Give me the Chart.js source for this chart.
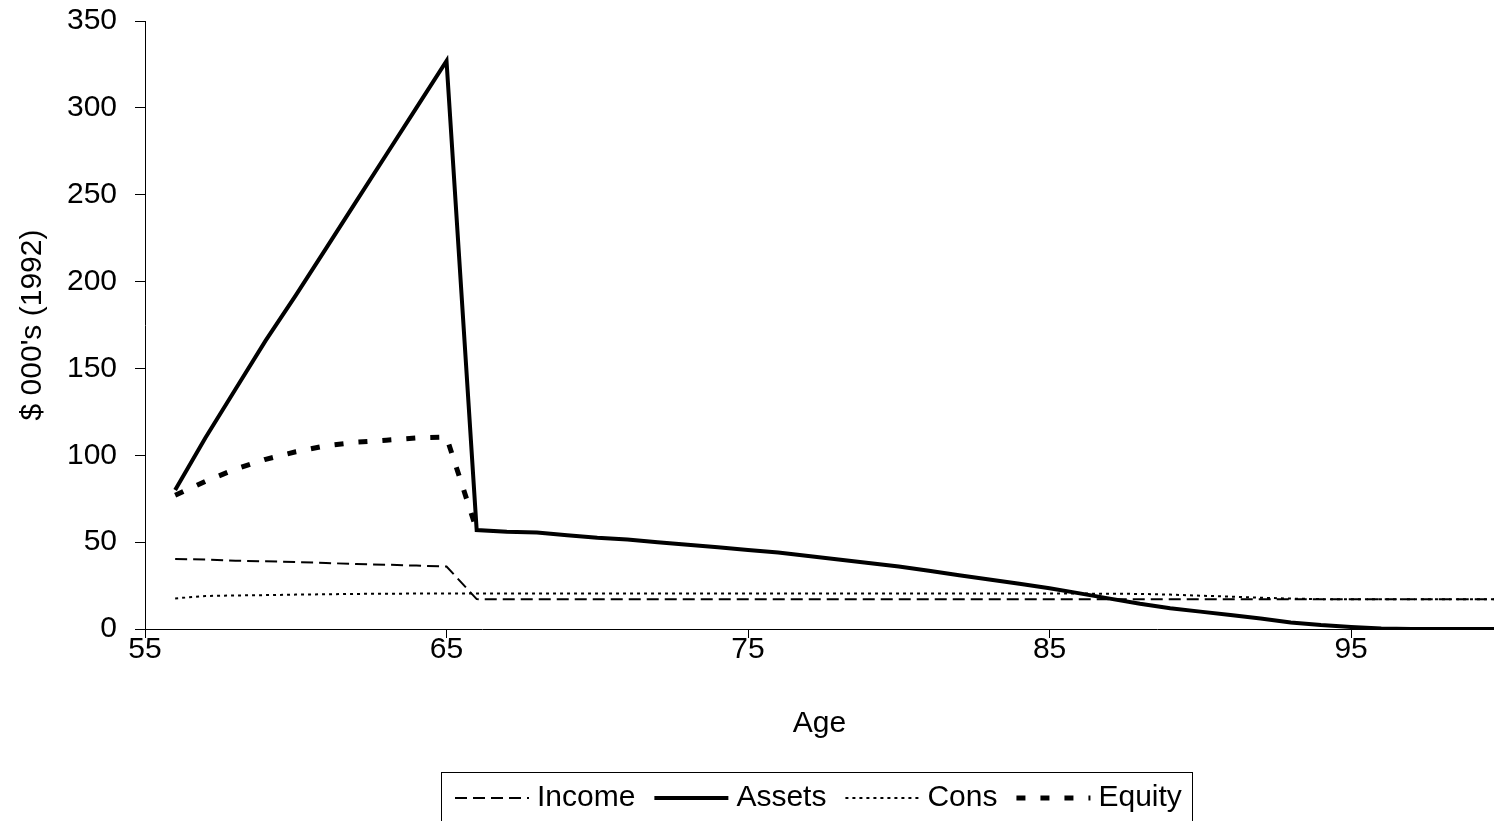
<!DOCTYPE html>
<html>
<head>
<meta charset="utf-8">
<script src="https://cdn.jsdelivr.net/npm/chart.js@4"></script>
<style>
  html, body { margin: 0; padding: 0; background: #fff; }
  #wrap { width: 1494px; height: 821px; position: relative; }
</style>
</head>
<body>
<div id="wrap"><canvas id="c" width="1494" height="821"></canvas></div>
<script>
const ages = [56,57,58,59,60,61,62,63,64,65,66,67,68,69,70,71,72,73,74,75,76,77,78,79,80,81,82,83,84,85,86,87,88,89,90,91,92,93,94,95,96,97,98,99,100];
const income = [40.3,40,39.3,39,38.5,38,37.4,37,36.5,36,17.2,17.1,17.1,17.1,17.1,17.1,17.1,17.1,17.1,17.1,17.1,17.1,17.1,17.1,17.1,17.1,17.1,17.1,17.1,17.1,17.1,17.1,17.1,17.1,17.1,17.1,17.1,17.1,17.1,17.1,17.1,17.1,17.1,17.1,17.1];
const assets = [80,110,138,166,192,219,246,273,300,327,57,56,55.5,54,52.5,51.5,50,48.5,47,45.5,44,42,40,38,36,33.5,31,28.5,26,23.5,20.5,17.5,14.5,12,10,8,6,3.8,2.3,1.2,0.3,0,0,0,0];
const cons = [17.6,19,19.3,19.5,19.8,20,20.2,20.3,20.4,20.5,20.5,20.5,20.5,20.5,20.5,20.5,20.5,20.5,20.5,20.5,20.5,20.5,20.5,20.5,20.5,20.5,20.5,20.5,20.4,20.4,20.4,20.3,20.2,19.8,19.2,18.6,18,17.5,17.2,17.1,17.1,17.1,17.1,17.1,17.1];
const equity = [77,85,92,97.7,102,105.5,107.5,108.7,110,110.5,57];
const xTicks = [55,65,75,85,95];
const yTicks = [0,50,100,150,200,250,300,350];
const seriesNames = ['Income','Assets','Cons','Equity'];

const FONT = "'Liberation Sans', Arial, sans-serif";
const toPts = (arr) => arr.map((v,i) => ({x: ages[i], y: v}));

const legendPlugin = {
  id: 'boxLegend',
  afterDraw(chart) {
    const ctx = chart.ctx;
    ctx.save();
    ctx.strokeStyle = '#000';
    ctx.lineWidth = 1;
    ctx.setLineDash([]);
    ctx.strokeRect(441.5, 772.5, 751, 60);
    ctx.font = "30px " + FONT;
    ctx.textBaseline = 'middle';
    ctx.fillStyle = '#000';
    let x = 455;
    const y = 798;
    const sampleLen = 74, gap = 8, spacing = 19;
    chart.data.datasets.forEach(ds => {
      ctx.beginPath();
      ctx.setLineDash(ds.borderDash || []);
      ctx.lineWidth = ds.borderWidth;
      ctx.strokeStyle = ds.borderColor;
      ctx.moveTo(x, y);
      ctx.lineTo(x + sampleLen, y);
      ctx.stroke();
      ctx.setLineDash([]);
      x += sampleLen + gap;
      ctx.fillText(ds.label, x, y);
      x += ctx.measureText(ds.label).width + spacing;
    });
    ctx.restore();
  }
};

new Chart(document.getElementById('c'), {
  type: 'line',
  data: {
    datasets: [
      { label: seriesNames[0], data: toPts(income), borderColor: '#000', borderWidth: 2, borderDash: [12,6], pointRadius: 0, order: 2 },
      { label: seriesNames[1], data: toPts(assets), borderColor: '#000', borderWidth: 4, borderDash: [], pointRadius: 0, order: 0 },
      { label: seriesNames[2], data: toPts(cons), borderColor: '#000', borderWidth: 2, borderDash: [3,4], pointRadius: 0, order: 3 },
      { label: seriesNames[3], data: equity.map((v,i)=>({x: ages[i], y: v})), borderColor: '#000', borderWidth: 5, borderDash: [9,15], pointRadius: 0, order: 1 }
    ]
  },
  options: {
    responsive: false,
    animation: false,
    devicePixelRatio: 1,
    layout: { padding: { top: 21, right: 0, left: 0, bottom: 0 } },
    plugins: { legend: { display: false }, tooltip: { enabled: false } },
    elements: { line: { tension: 0, borderCapStyle: 'butt', borderJoinStyle: 'miter' } },
    scales: {
      x: {
        type: 'linear',
        min: 55,
        max: 99.74,
        afterBuildTicks: (s) => { s.ticks = xTicks.map(v => ({value: v})); },
        afterFit: (s) => { s.height = 192; s.paddingLeft = 0; s.paddingRight = 0; },
        border: { display: true, color: '#000', width: 1 },
        grid: { display: true, drawOnChartArea: false, drawTicks: true, tickLength: 9, color: '#000' },
        ticks: { color: '#000', font: { family: FONT, size: 30 }, padding: -6, maxRotation: 0 },
        title: { display: true, text: 'Age', color: '#000', font: { family: FONT, size: 30 }, padding: { top: 0, bottom: 79 } }
      },
      y: {
        min: 0,
        max: 350,
        afterBuildTicks: (s) => { s.ticks = yTicks.map(v => ({value: v})); },
        afterFit: (s) => { s.width = 145; s.paddingTop = 0; s.paddingBottom = 0; },
        border: { display: true, color: '#000', width: 1 },
        grid: { display: true, drawOnChartArea: false, drawTicks: true, tickLength: 10, color: '#000' },
        ticks: { color: '#000', font: { family: FONT, size: 30 }, padding: 18 },
        title: { display: true, text: "$ 000's (1992)", color: '#000', font: { family: FONT, size: 30 }, padding: { top: 15, bottom: 0 } }
      }
    }
  },
  plugins: [legendPlugin]
});
</script>
</body>
</html>
